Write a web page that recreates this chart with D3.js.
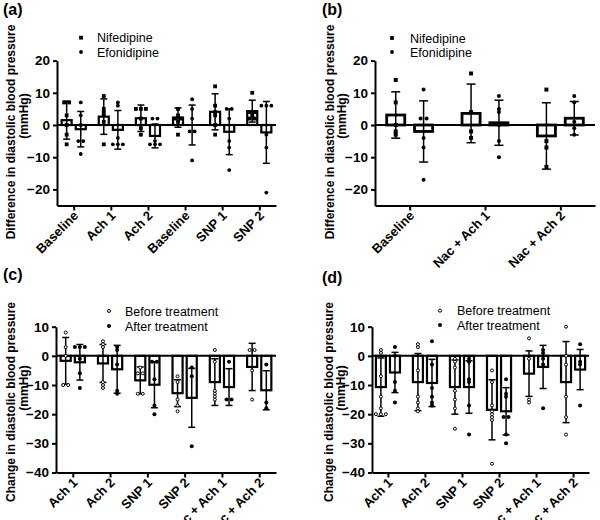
<!DOCTYPE html>
<html><head><meta charset="utf-8">
<script src="https://cdn.jsdelivr.net/npm/d3@7"></script>
<style>
body{margin:0;background:#fff}
svg{display:block}
text{font-family:"Liberation Sans",Arial,Helvetica,sans-serif;fill:#000}
</style>
</head><body>
<svg id="chart" width="600" height="520"></svg>
<script>
// ---------- Panel (a) ----------
const catsA = ["Baseline","Ach 1","Ach 2","Baseline","SNP 1","SNP 2"];
const nifMeanA = [1.5, 2.6, 2.1, 2.3, 4.1, 4.3];
const nifSdA   = [5.9, 5.5, 4.1, 3.0, 5.6, 3.4];
const nifPtsA  = [[7,7,3,0,-3,-6],[9,5,4,3,1,-6],[5,5,5,2,-1,-3],[5,3,2,2,1,-3],[12,6,4,3,0,-3],[10,4,4,3,2,2]];
const efoMeanA = [-1.3, -1.5, -3.4, 0, -2.1, -2.3];
const efoSdA   = [5.5, 6.0, 3.7, 6.2, 7.1, 9.6];
const efoPtsA  = [[7,3,0,-5,-5,-9],[7,6,-4,-6,-6,-6],[2,2,-5,-6,-6,-6],[8,5,2,-2,-2,-11],[5,5,2,-5,-7,-14],[6,6,6,-3,-7,-21]];
const yTicksAB = [20,10,0,-10,-20];

// ---------- Panel (b) ----------
const catsB = ["Baseline","Nac + Ach 1","Nac + Ach 2"];
const nifMeanB = [3.1, 3.6, -3.4];
const nifSdB   = [7.2, 9.1, 10.3];
const nifPtsB  = [[14,7,0,-2,-3],[16,4,-2,-4],[11,-5,-7,-13]];
const efoMeanB = [-2.0, 0.7, 2.1];
const efoSdB   = [9.5, 7.0, 5.2];
const efoPtsB  = [[11,2,2,-4,-7,-17],[9,5,4,0,-5,-10],[9,7,1,-1,-3]];

// ---------- Panels (c) and (d) ----------
const catsCD = ["Ach 1","Ach 2","SNP 1","SNP 2","Nac + Ach 1","Nac + Ach 2"];
const yTicksCD = [10,0,-10,-20,-30,-40];

const beforeMeanC = [-1.7, -2.6, -8.4, -12.8, -9.0, -3.8];
const beforeSdC   = [8.0, 6.5, 4.6, 4.6, 8.0, 8.1];
const beforePtsC  = [[8,3,0,-10,-10],[5,4,3,-9,-10,-11],[-4,-6,-6,-13,-13],[-7,-9,-15,-17,-19],[2,-2,-12,-13,-14,-15],[2,2,-5,-15]];
const afterMeanC  = [-2.2, -4.6, -9.9, -14.4, -10.7, -11.8];
const afterSdC    = [6.1, 8.2, 7.9, 10.1, 6.3, 6.7];
const afterPtsC   = [[3,3,3,-1,-6,-11],[3,2,-3,-12,-13],[-2,-2,-8,-17,-20],[-4,-7,-31],[-2,-15,-15],[-3,-16,-18]];

const beforeMeanD = [-10.7, -9.0, -10.7, -18.5, -6.1, -9.0];
const beforeSdD   = [10.0, 9.8, 9.3, 10.3, 7.8, 13.9];
const beforePtsD  = [[2,1,-7,-14,-18,-20,-20,-20],[4,3,-5,-14,-16,-18,-19],[-1,-2,-4,-12,-15,-18,-25],[-5,-9,-17,-19,-20,-21,-22,-37],[6,-1,-15,-16],[10,0,-3,-14,-21,-27]];
const afterMeanD  = [-5.7, -9.3, -10.7, -19.0, -3.8, -4.7];
const afterSdD    = [6.9, 8.1, 9.0, 8.1, 7.4, 6.9];
const afterPtsD   = [[3,0,-9,-12,-16],[5,-3,-11,-14,-16,-17],[-1,-2,-8,-9,-17,-27],[-8,-13,-14,-21,-21,-27,-30],[2,1,-1,-3,-18],[4,-2,-3,-17]];

const svg = d3.select("#chart");

function drawMarker(g, type, cx, cy, sz) {
  if (type === "square") {
    g.append("rect").attr("x", cx - sz/2).attr("y", cy - sz/2).attr("width", sz).attr("height", sz).attr("fill", "#000");
  } else if (type === "dot") {
    g.append("circle").attr("cx", cx).attr("cy", cy).attr("r", sz/2).attr("fill", "#000");
  } else {
    g.append("circle").attr("cx", cx).attr("cy", cy).attr("r", sz/2 - 0.5).attr("fill", "#fff").attr("stroke", "#000").attr("stroke-width", 1);
  }
}

function drawPanel(c) {
  const g = svg.append("g");
  const x = d3.scalePoint().domain(d3.range(c.cats.length)).range(c.xRange).padding(c.pad);
  const y = d3.scaleLinear().domain(c.yDomain).range(c.yRange);
  const step = x.step();
  const bw = step * c.barFrac, off = step * c.offFrac;

  // zero line
  g.append("line").attr("x1", c.xRange[0]).attr("x2", c.xRange[1])
    .attr("y1", y(0)).attr("y2", y(0)).attr("stroke", "#000").attr("stroke-width", 2);

  c.series.forEach((s, si) => {
    const dx = si === 0 ? -off : off;
    s.means.forEach((m, i) => {
      const cx = x(i) + dx;
      g.append("rect").attr("x", cx - bw/2).attr("width", bw)
        .attr("y", Math.min(y(0), y(m))).attr("height", Math.abs(y(m) - y(0)))
        .attr("fill", "#fff").attr("stroke", "#000").attr("stroke-width", c.barStroke);
    });
  });
  c.series.forEach((s, si) => {
    const dx = si === 0 ? -off : off;
    s.means.forEach((m, i) => {
      const cx = x(i) + dx;
      const yt = y(m + s.sds[i]), yb = y(m - s.sds[i]);
      g.append("line").attr("x1", cx).attr("x2", cx).attr("y1", yt).attr("y2", yb)
        .attr("stroke", "#000").attr("stroke-width", 1.5);
      [yt, yb].forEach(yy => g.append("line").attr("x1", cx - c.cap/2).attr("x2", cx + c.cap/2)
        .attr("y1", yy).attr("y2", yy).attr("stroke", "#000").attr("stroke-width", 1.5));
    });
  });
  c.series.forEach((s, si) => {
    const dx = si === 0 ? -off : off;
    s.pts.forEach((arr, i) => {
      const cx = x(i) + dx;
      const ys = arr.map(v => y(v)).sort((a, b) => a - b);
      const clusters = [];
      ys.forEach(py => {
        const last = clusters[clusters.length - 1];
        if (last && py - last[last.length - 1] < c.sz * 0.6) last.push(py);
        else clusters.push([py]);
      });
      clusters.forEach(cl => {
        cl.forEach((py, k) => {
          const ox = (k - (cl.length - 1) / 2) * c.spread;
          drawMarker(g, s.marker, cx + ox, py, c.sz);
        });
      });
    });
  });

  // y axis
  const ya = g.append("g").attr("transform", `translate(${c.xRange[0]},0)`)
    .call(d3.axisLeft(y).tickValues(c.yTicks).tickSize(4).tickSizeOuter(0).tickPadding(3));
  ya.select(".domain").attr("stroke-width", 2);
  ya.selectAll(".tick line").attr("stroke-width", 2);
  ya.selectAll(".tick text").attr("font-size", 13.5).attr("font-weight", "bold")
    .attr("font-family", '"Liberation Sans",Arial,sans-serif');

  // x axis
  const xa = g.append("g").attr("transform", `translate(0,${y(c.yDomain[0])})`)
    .call(d3.axisBottom(x).tickSize(5).tickSizeOuter(0).tickFormat(i => c.cats[i]));
  xa.select(".domain").attr("stroke-width", 2);
  xa.selectAll(".tick line").attr("stroke-width", 2);
  xa.selectAll(".tick text").attr("font-size", 13).attr("font-weight", "bold")
    .attr("font-family", '"Liberation Sans",Arial,sans-serif')
    .attr("text-anchor", "end").attr("dy", null).attr("y", null)
    .attr("transform", "translate(5,11) rotate(-45)");

  // y title
  g.append("text").attr("transform", `translate(${c.title1X},${c.title1Y}) rotate(-90)`)
    .attr("text-anchor", "middle").attr("font-size", 12).attr("font-weight", "bold").text(c.title);
  g.append("text").attr("transform", `translate(${c.title2X},${c.title2Y}) rotate(-90)`)
    .attr("text-anchor", "middle").attr("font-size", 12).attr("font-weight", "bold").text("(mmHg)");

  // legend
  c.series.forEach((s, si) => {
    const ly = c.legY[si];
    drawMarker(g, s.marker, c.legX, ly, c.legSz);
    g.append("text").attr("x", c.legTextX).attr("y", ly + 4.5).attr("font-size", 12.5).text(s.name);
  });

  // panel letter
  g.append("text").attr("x", c.letterPos[0]).attr("y", c.letterPos[1])
    .attr("font-size", 16).attr("font-weight", "bold").text(c.letter);
}

drawPanel({
  letter: "(a)", letterPos: [3, 15],
  cats: catsA, xRange: [57, 276], pad: 0.45,
  yDomain: [-25, 20], yRange: [205.5, 60.6], yTicks: yTicksAB,
  barFrac: 0.27, offFrac: 0.19, barStroke: 2.2, cap: 7, sz: 3.8, spread: 5,
  series: [
    {name: "Nifedipine", means: nifMeanA, sds: nifSdA, pts: nifPtsA, marker: "square"},
    {name: "Efonidipine", means: efoMeanA, sds: efoSdA, pts: efoPtsA, marker: "dot"}
  ],
  title: "Difference in diastolic blood pressure", title1X: 15, title1Y: 132, title2X: 28, title2Y: 116,
  legX: 81, legY: [37.7, 52], legTextX: 97, legSz: 3.8
});

drawPanel({
  letter: "(b)", letterPos: [322, 15],
  cats: catsB, xRange: [375, 595], pad: 0.46,
  yDomain: [-25, 20], yRange: [205.5, 60.6], yTicks: yTicksAB,
  barFrac: 0.24, offFrac: 0.185, barStroke: 2.8, cap: 9, sz: 4, spread: 6,
  series: [
    {name: "Nifedipine", means: nifMeanB, sds: nifSdB, pts: nifPtsB, marker: "square"},
    {name: "Efonidipine", means: efoMeanB, sds: efoSdB, pts: efoPtsB, marker: "dot"}
  ],
  title: "Difference in diastolic blood pressure", title1X: 334, title1Y: 132, title2X: 346, title2Y: 116,
  legX: 392, legY: [38, 52], legTextX: 410, legSz: 3.8
});

drawPanel({
  letter: "(c)", letterPos: [3, 280],
  cats: catsCD, xRange: [56, 276], pad: 0.45,
  yDomain: [-40, 10], yRange: [472.5, 326.7], yTicks: yTicksCD,
  barFrac: 0.27, offFrac: 0.19, barStroke: 2.2, cap: 7, sz: 4, spread: 5,
  series: [
    {name: "Before treatment", means: beforeMeanC, sds: beforeSdC, pts: beforePtsC, marker: "open"},
    {name: "After treatment", means: afterMeanC, sds: afterSdC, pts: afterPtsC, marker: "dot"}
  ],
  title: "Change in diastolic blood pressure", title1X: 15, title1Y: 402, title2X: 28, title2Y: 388,
  legX: 109, legY: [311, 326], legTextX: 125, legSz: 4
});

drawPanel({
  letter: "(d)", letterPos: [322, 283],
  cats: catsCD, xRange: [372, 589], pad: 0.43,
  yDomain: [-40, 10], yRange: [472.5, 326.7], yTicks: yTicksCD,
  barFrac: 0.27, offFrac: 0.19, barStroke: 2.2, cap: 7, sz: 4, spread: 5,
  series: [
    {name: "Before treatment", means: beforeMeanD, sds: beforeSdD, pts: beforePtsD, marker: "open"},
    {name: "After treatment", means: afterMeanD, sds: afterSdD, pts: afterPtsD, marker: "dot"}
  ],
  title: "Change in diastolic blood pressure", title1X: 333, title1Y: 402, title2X: 345, title2Y: 388,
  legX: 440, legY: [310.7, 325], legTextX: 457, legSz: 4
});
</script>
</body></html>
